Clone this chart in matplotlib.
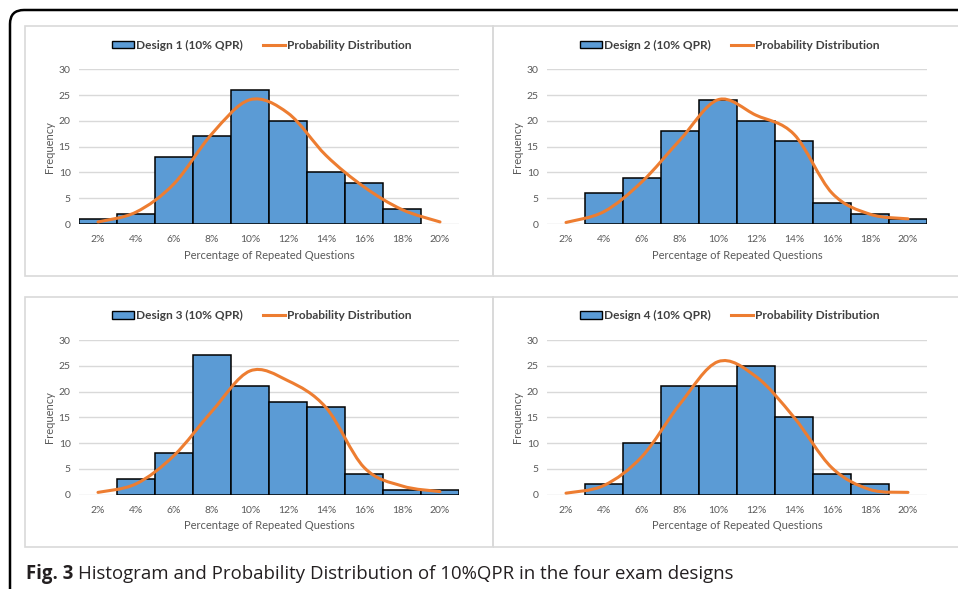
import matplotlib
matplotlib.use('Agg')
import matplotlib.pyplot as plt
from matplotlib.patches import Rectangle, FancyBboxPatch, Patch, PathPatch
from matplotlib.lines import Line2D
from matplotlib.path import Path
from matplotlib.transforms import IdentityTransform

# Dati
categorie = [2, 4, 6, 8, 10, 12, 14, 16, 18, 20]
etichette_x = ['2%', '4%', '6%', '8%', '10%', '12%', '14%', '16%', '18%', '20%']

freq_d1 = [1, 2, 13, 17, 26, 20, 10, 8, 3, 0]
freq_d2 = [0, 6, 9, 18, 24, 20, 16, 4, 2, 1]
freq_d3 = [0, 3, 8, 27, 21, 18, 17, 4, 1, 1]
freq_d4 = [0, 2, 10, 21, 21, 25, 15, 4, 2, 0]

prob_d1 = [0.4, 2.3, 7.8, 17.5, 24.1, 21.5, 13.3, 7.2, 2.8, 0.4]
prob_d2 = [0.3, 2.4, 8.2, 16.3, 24.1, 21.1, 17.4, 6.0, 1.9, 1.0]
prob_d3 = [0.45, 2.1, 7.6, 16.2, 24.0, 22.1, 16.9, 5.3, 1.7, 0.6]
prob_d4 = [0.3, 1.8, 7.4, 17.6, 25.8, 22.9, 15.0, 5.2, 1.0, 0.45]

titoli = ['Design 1 (10% QPR)', 'Design 2 (10% QPR)',
          'Design 3 (10% QPR)', 'Design 4 (10% QPR)']

BLU = '#5b9bd5'
ARANCIO = '#ed7d31'
GRIGIO = '#595959'
GRIGLIA = '#d9d9d9'
FONT = 'Lato'

W, H = 958, 589
fig = plt.figure(figsize=(W / 100, H / 100), dpi=100)


def px(x, y):
    # da pixel (origine in alto a sinistra) a coordinate display
    return x, H - y


def linea_liscia(xs, ys):
    # curva liscia come in Excel (Catmull-Rom -> Bezier)
    pts = list(zip(xs, ys))
    verts = [pts[0]]
    codes = [Path.MOVETO]
    n = len(pts)
    for i in range(n - 1):
        p0 = pts[i - 1] if i > 0 else pts[i]
        p1 = pts[i]
        p2 = pts[i + 1]
        p3 = pts[i + 2] if i + 2 < n else pts[i + 1]
        c1 = (p1[0] + (p2[0] - p0[0]) / 6, p1[1] + (p2[1] - p0[1]) / 6)
        c2 = (p2[0] - (p3[0] - p1[0]) / 6, p2[1] - (p3[1] - p1[1]) / 6)
        verts += [c1, c2, p2]
        codes += [Path.CURVE4] * 3
    return Path(verts, codes)


# Bordo esterno arrotondato e riquadri dei pannelli
bordo = FancyBboxPatch(px(10, 640), 1000, 630, boxstyle='round,pad=0,rounding_size=14',
                       transform=IdentityTransform(), facecolor='none',
                       edgecolor='black', linewidth=1.8)
fig.patches.append(bordo)
for (x0, y0, x1, y1) in [(25, 26, 493, 276), (493, 26, 970, 276),
                         (25, 297, 493, 547), (493, 297, 970, 547)]:
    r = Rectangle(px(x0, y1), x1 - x0, y1 - y0, transform=IdentityTransform(),
                  facecolor='none', edgecolor=GRIGLIA, linewidth=1.2)
    fig.patches.append(r)

# Posizioni degli assi in pixel: sinistra, destra, y dello zero, y del 30
assi_px = [(79, 459, 224, 69.3), (547, 927, 224, 69.3),
           (79, 459, 494.7, 340), (547, 927, 494.7, 340)]
frequenze = [freq_d1, freq_d2, freq_d3, freq_d4]
probabilita = [prob_d1, prob_d2, prob_d3, prob_d4]

for k in range(4):
    l, r, y0, y30 = assi_px[k]
    ax = fig.add_axes([l / W, (H - y0) / H, (r - l) / W, (y0 - y30) / H])
    freq = frequenze[k]
    xb = [c for c, f in zip(categorie, freq) if f > 0]
    fb = [f for f in freq if f > 0]
    ax.bar(xb, fb, width=2, color=BLU, edgecolor='black', linewidth=1.1, zorder=2)
    curva = PathPatch(linea_liscia(categorie, probabilita[k]), facecolor='none',
                      edgecolor=ARANCIO, linewidth=2.2, capstyle='round', zorder=3)
    ax.add_patch(curva)

    ax.set_xlim(1, 21)
    ax.set_ylim(0, 30)
    ax.set_yticks([0, 5, 10, 15, 20, 25, 30])
    ax.set_xticks(categorie)
    ax.set_xticklabels(etichette_x)
    ax.grid(axis='y', color=GRIGLIA, linewidth=1.0, zorder=0)
    ax.set_axisbelow(True)
    for s in ax.spines.values():
        s.set_visible(False)
    ax.tick_params(length=0, labelsize=7.5, labelcolor=GRIGIO)
    ax.tick_params(axis='x', pad=8)
    ax.tick_params(axis='y', pad=6)
    for t in ax.get_xticklabels() + ax.get_yticklabels():
        t.set_fontfamily(FONT)
    ax.set_xlabel('Percentage of Repeated Questions', fontsize=8, color=GRIGIO,
                  family=FONT, labelpad=4)
    ax.set_ylabel('Frequency', fontsize=8, color=GRIGIO, family=FONT, labelpad=3)

    maniglie = [Patch(facecolor=BLU, edgecolor='black', linewidth=1.0),
                Line2D([0], [0], color=ARANCIO, linewidth=2.2)]
    leg = ax.legend(maniglie, [titoli[k], 'Probability Distribution'],
                    loc='center', bbox_to_anchor=(0.48, 1.157), ncol=2, frameon=False,
                    handlelength=1.9, handleheight=0.6, handletextpad=0.1,
                    columnspacing=1.7, borderaxespad=0,
                    prop={'family': FONT, 'size': 8.6, 'weight': 'bold'})
    for t in leg.get_texts():
        t.set_color('#404040')

# Didascalia
t1 = fig.text(26 / W, (H - 579) / H, 'Fig. 3', fontsize=13.4, fontweight='bold',
              family='Open Sans', color='#231f20', va='baseline')
renderer = fig.canvas.get_renderer()
bb = t1.get_window_extent(renderer)
fig.text((bb.x1 + 5) / W, (H - 579) / H,
         'Histogram and Probability Distribution of 10%QPR in the four exam designs',
         fontsize=13.4, family='Open Sans', color='#231f20', va='baseline')

fig.savefig('out.png', dpi=100)
